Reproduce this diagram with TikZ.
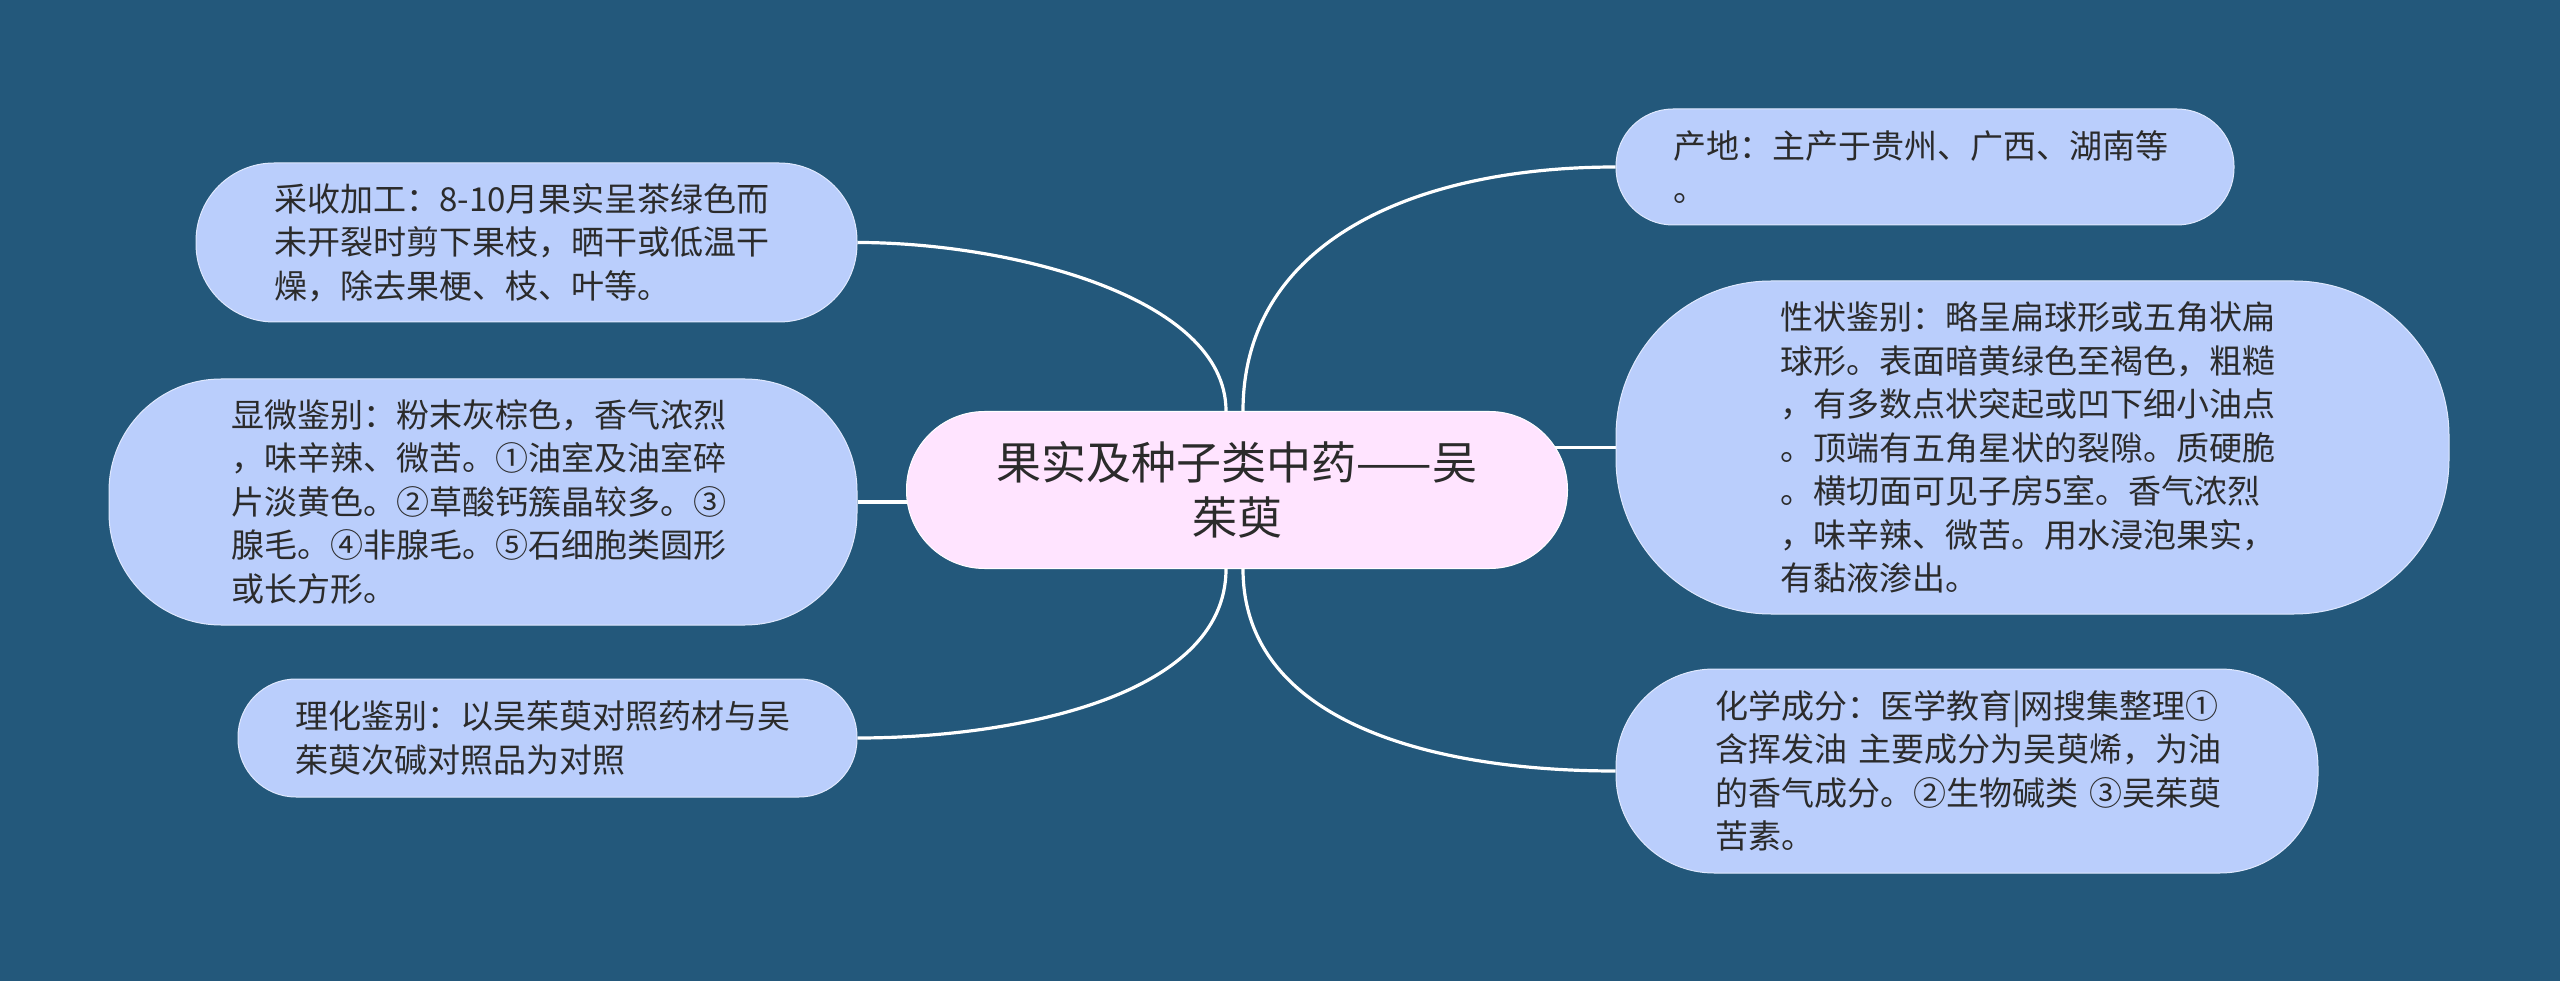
\documentclass[tikz,border=0pt]{standalone}
\usepackage{fontspec}
\newfontfamily\cjk{Noto Sans CJK SC}
\usetikzlibrary{backgrounds}
\definecolor{bgblue}{HTML}{23587B}
\definecolor{leafblue}{HTML}{BACEFC}
\definecolor{hubpink}{HTML}{FFE4FF}
\definecolor{inkgray}{HTML}{2B2B2B}
\begin{document}
\begin{tikzpicture}[x=1pt,y=-1pt,
  leaf/.style={draw=white!55!leafblue,line width=1pt,fill=leafblue,text=inkgray,inner sep=0pt,
    text width=504pt,align=left,font=\cjk\fontsize{33}{43.5}\selectfont},
  hub/.style={draw=white,line width=1pt,fill=hubpink,text=inkgray,inner sep=0pt,align=center,
    minimum width=661pt,minimum height=157pt,rounded corners=78pt,font=\cjk\fontsize{45}{55}\selectfont},
  link/.style={draw=white,line width=3.2pt}]
\begin{scope}[on background layer]
\fill[bgblue] (0,0) rectangle (2560,981);
\end{scope}
% centre
\node[hub] (root) at (1237,490) {果实及种子类中药——吴\\茱萸};
% left side
\node[leaf,minimum width=661pt,minimum height=159pt,rounded corners=78pt] (harvest) at (526.5,242.5)
  {采收加工：8-10月果实呈茶绿色而\\未开裂时剪下果枝，晒干或低温干\\燥，除去果梗、枝、叶等。};
\node[leaf,minimum width=748pt,minimum height=246pt,rounded corners=112pt] (micro) at (483,502)
  {显微鉴别：粉末灰棕色，香气浓烈\\，味辛辣、微苦。①油室及油室碎\\片淡黄色。②草酸钙簇晶较多。③\\腺毛。④非腺毛。⑤石细胞类圆形\\或长方形。};
\node[leaf,minimum width=619pt,minimum height=118pt,rounded corners=58pt] (physchem) at (547.5,738)
  {理化鉴别：以吴茱萸对照药材与吴\\茱萸次碱对照品为对照};
% right side
\node[leaf,minimum width=618pt,minimum height=116pt,rounded corners=57pt] (origin) at (1925,167)
  {产地：主产于贵州、广西、湖南等\\。};
\node[leaf,minimum width=833pt,minimum height=333pt,rounded corners=155pt] (shape) at (2032.5,447.5)
  {性状鉴别：略呈扁球形或五角状扁\\球形。表面暗黄绿色至褐色，粗糙\\，有多数点状突起或凹下细小油点\\。顶端有五角星状的裂隙。质硬脆\\。横切面可见子房5室。香气浓烈\\，味辛辣、微苦。用水浸泡果实，\\有黏液渗出。};
\node[leaf,minimum width=702pt,minimum height=204pt,rounded corners=98pt] (compo) at (1967,771)
  {化学成分：医学教育|网搜集整理①\\含挥发油~主要成分为吴萸烯，为油\\的香气成分。②生物碱类~③吴茱萸\\苦素。};
% connectors
\begin{scope}[on background layer]
\draw[link] ([xshift=-11pt]root.north) .. controls +(0,-115) and +(150,0) .. (harvest.east);
\draw[link] (micro.east) -- (root.center |- micro.east);
\draw[link] ([xshift=-11pt]root.south) .. controls +(0,130) and +(150,0) .. (physchem.east);
\draw[link] ([xshift=6pt]root.north) .. controls +(0,-170) and +(-200,0) .. (origin.west);
\draw[link] (shape.west) -- (root.center |- shape.west);
\draw[link] ([xshift=6pt]root.south) .. controls +(0,150) and +(-190,0) .. (compo.west);
\end{scope}
\end{tikzpicture}
\end{document}
